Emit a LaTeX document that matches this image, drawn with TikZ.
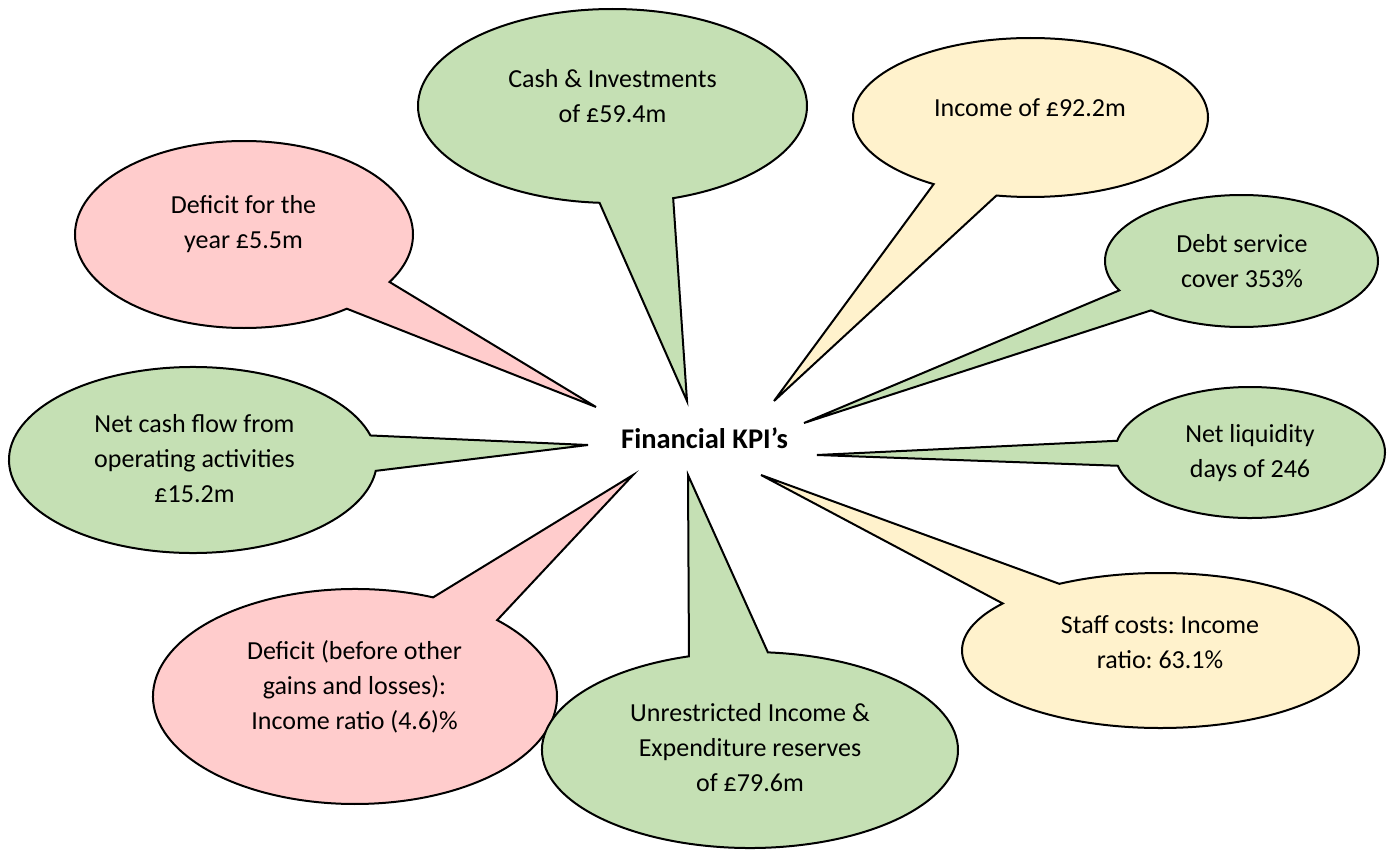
\documentclass[tikz,border=0pt]{standalone}
\usepackage{fontspec}
\setmainfont{Carlito}
\frenchspacing
\usetikzlibrary{shapes.callouts}
\definecolor{kpigreen}{HTML}{C5E0B4}
\definecolor{kpired}{HTML}{FFCCCC}
\definecolor{kpiyellow}{HTML}{FFF2CC}
\tikzset{
  bubble/.style={ellipse callout, draw=black, line width=2pt, inner sep=0pt, callout pointer arc=22},
  bubbletext/.style={align=center, inner sep=0pt, font=\fontsize{26}{35}\selectfont}
}
\begin{document}
\begin{tikzpicture}[x=1pt,y=-1pt]
  \useasboundingbox (0,0) rectangle (1393,851);
  \node[anchor=base, font=\fontsize{28.5}{34}\selectfont\bfseries] (kpi) at (704.5,448) {Financial KPI’s};
  % pointer tips round the title
  \coordinate (cash tip) at (687,401);
  \coordinate (income tip) at (774,401);
  \coordinate (debt tip) at (804,423);
  \coordinate (liquidity tip) at (817,455);
  \coordinate (staff tip) at (761,475);
  \coordinate (reserves tip) at (688,475);
  \coordinate (ratio tip) at (633,475);
  \coordinate (cashflow tip) at (588,445);
  \coordinate (deficit tip) at (596,407);
  % callouts
  \node[bubble, fill=kpired, minimum width=338pt, minimum height=187pt, callout absolute pointer={(deficit tip)}] (deficit) at (244,234.5) {};
  \node[bubble, fill=kpigreen, minimum width=389pt, minimum height=194pt, callout absolute pointer={(cash tip)}] (cash) at (612.5,106) {};
  \node[bubble, fill=kpiyellow, minimum width=355pt, minimum height=159pt, callout absolute pointer={(income tip)}] (income) at (1030.5,117.5) {};
  \node[bubble, fill=kpigreen, minimum width=273pt, minimum height=132pt, callout absolute pointer={(debt tip)}] (debt) at (1241.5,261) {};
  \node[bubble, fill=kpigreen, minimum width=270pt, minimum height=131pt, callout absolute pointer={(liquidity tip)}] (liquidity) at (1250,452.5) {};
  \node[bubble, fill=kpigreen, minimum width=368pt, minimum height=186pt, callout absolute pointer={(cashflow tip)}] (cashflow) at (193,460) {};
  \node[bubble, fill=kpiyellow, minimum width=397pt, minimum height=155pt, callout absolute pointer={(staff tip)}] (staff) at (1160.5,650.5) {};
  \node[bubble, fill=kpired, minimum width=404pt, minimum height=215pt, callout absolute pointer={(ratio tip)}] (ratio) at (355,696.5) {};
  \node[bubble, fill=kpigreen, minimum width=416pt, minimum height=196pt, callout absolute pointer={(reserves tip)}] (reserves) at (750,750) {};
  % texts
  \node[bubbletext] (deficit text) at (243.5,224.5) {Deficit for the\\year £5.5m};
  \node[bubbletext] (cash text) at (612.5,96) {Cash \& Investments\\of £59.4m};
  \node[bubbletext] (income text) at (1030,108) {Income of £92.2m};
  \node[bubbletext] (debt text) at (1242,261) {Debt service\\cover 353\%};
  \node[bubbletext] (liquidity text) at (1250,453.5) {Net liquidity\\days of 246};
  \node[bubbletext] (cashflow text) at (194.5,459) {Net cash flow from\\operating activities\\£15.2m};
  \node[bubbletext] (staff text) at (1160,642.5) {Staff costs: Income\\ratio: 63.1\%};
  \node[bubbletext] (ratio text) at (354.5,687) {Deficit (before other\\gains and losses):\\Income ratio (4.6)\%};
  \node[bubbletext] (reserves text) at (750,748) {Unrestricted Income \&\\Expenditure reserves\\of £79.6m};
\end{tikzpicture}
\end{document}
